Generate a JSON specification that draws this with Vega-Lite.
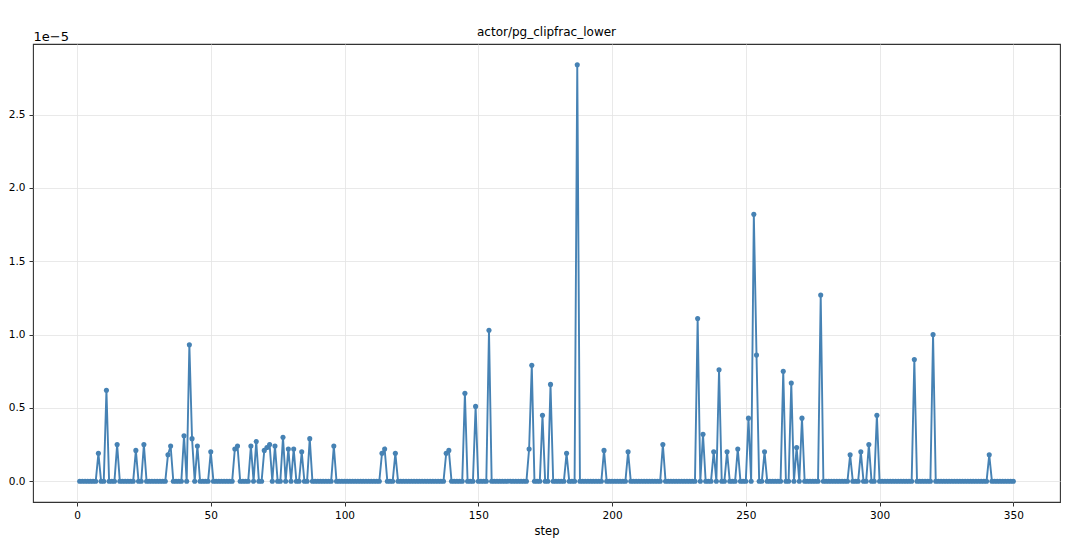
{
  "$schema": "https://vega.github.io/schema/vega-lite/v6.json",
  "autosize": {"type": "none"},
  "width": 1027,
  "height": 458,
  "padding": {"left": 33, "top": 44, "right": 20, "bottom": 57},
  "background": "white",
  "title": {"text": "actor/pg_clipfrac_lower", "font": "DejaVu Sans", "fontSize": 12, "fontWeight": "normal", "color": "black", "offset": -9},
  "config": {
    "view": {"stroke": "#333333", "strokeWidth": 1.1},
    "axis": {"labelFont": "DejaVu Sans", "titleFont": "DejaVu Sans", "labelColor": "black", "titleColor": "black", "labelFontSize": 10.5, "titleFontSize": 11.5, "titleFontWeight": "normal", "tickColor": "#333333", "tickSize": 4, "domain": false, "gridColor": "#e3e3e3", "gridWidth": 0.8}
  },
  "data": {"values": [
{"step":1,"value":0},{"step":2,"value":0},{"step":3,"value":0},{"step":4,"value":0},{"step":5,"value":0},{"step":6,"value":0},{"step":7,"value":0},{"step":8,"value":1.9e-6},{"step":9,"value":0},{"step":10,"value":0},
{"step":11,"value":6.2e-6},{"step":12,"value":0},{"step":13,"value":0},{"step":14,"value":0},{"step":15,"value":2.5e-6},{"step":16,"value":0},{"step":17,"value":0},{"step":18,"value":0},{"step":19,"value":0},{"step":20,"value":0},
{"step":21,"value":0},{"step":22,"value":2.1e-6},{"step":23,"value":0},{"step":24,"value":0},{"step":25,"value":2.5e-6},{"step":26,"value":0},{"step":27,"value":0},{"step":28,"value":0},{"step":29,"value":0},{"step":30,"value":0},
{"step":31,"value":0},{"step":32,"value":0},{"step":33,"value":0},{"step":34,"value":1.8e-6},{"step":35,"value":2.4e-6},{"step":36,"value":0},{"step":37,"value":0},{"step":38,"value":0},{"step":39,"value":0},{"step":40,"value":3.1e-6},
{"step":41,"value":0},{"step":42,"value":9.3e-6},{"step":43,"value":2.9e-6},{"step":44,"value":0},{"step":45,"value":2.4e-6},{"step":46,"value":0},{"step":47,"value":0},{"step":48,"value":0},{"step":49,"value":0},{"step":50,"value":2.0e-6},
{"step":51,"value":0},{"step":52,"value":0},{"step":53,"value":0},{"step":54,"value":0},{"step":55,"value":0},{"step":56,"value":0},{"step":57,"value":0},{"step":58,"value":0},{"step":59,"value":2.2e-6},{"step":60,"value":2.4e-6},
{"step":61,"value":0},{"step":62,"value":0},{"step":63,"value":0},{"step":64,"value":0},{"step":65,"value":2.4e-6},{"step":66,"value":0},{"step":67,"value":2.7e-6},{"step":68,"value":0},{"step":69,"value":0},{"step":70,"value":2.1e-6},
{"step":71,"value":2.3e-6},{"step":72,"value":2.5e-6},{"step":73,"value":0},{"step":74,"value":2.4e-6},{"step":75,"value":0},{"step":76,"value":0},{"step":77,"value":3.0e-6},{"step":78,"value":0},{"step":79,"value":2.2e-6},{"step":80,"value":0},
{"step":81,"value":2.2e-6},{"step":82,"value":0},{"step":83,"value":0},{"step":84,"value":2.0e-6},{"step":85,"value":0},{"step":86,"value":0},{"step":87,"value":2.9e-6},{"step":88,"value":0},{"step":89,"value":0},{"step":90,"value":0},
{"step":91,"value":0},{"step":92,"value":0},{"step":93,"value":0},{"step":94,"value":0},{"step":95,"value":0},{"step":96,"value":2.4e-6},{"step":97,"value":0},{"step":98,"value":0},{"step":99,"value":0},{"step":100,"value":0},
{"step":101,"value":0},{"step":102,"value":0},{"step":103,"value":0},{"step":104,"value":0},{"step":105,"value":0},{"step":106,"value":0},{"step":107,"value":0},{"step":108,"value":0},{"step":109,"value":0},{"step":110,"value":0},
{"step":111,"value":0},{"step":112,"value":0},{"step":113,"value":0},{"step":114,"value":1.9e-6},{"step":115,"value":2.2e-6},{"step":116,"value":0},{"step":117,"value":0},{"step":118,"value":0},{"step":119,"value":1.9e-6},{"step":120,"value":0},
{"step":121,"value":0},{"step":122,"value":0},{"step":123,"value":0},{"step":124,"value":0},{"step":125,"value":0},{"step":126,"value":0},{"step":127,"value":0},{"step":128,"value":0},{"step":129,"value":0},{"step":130,"value":0},
{"step":131,"value":0},{"step":132,"value":0},{"step":133,"value":0},{"step":134,"value":0},{"step":135,"value":0},{"step":136,"value":0},{"step":137,"value":0},{"step":138,"value":1.9e-6},{"step":139,"value":2.1e-6},{"step":140,"value":0},
{"step":141,"value":0},{"step":142,"value":0},{"step":143,"value":0},{"step":144,"value":0},{"step":145,"value":6.0e-6},{"step":146,"value":0},{"step":147,"value":0},{"step":148,"value":0},{"step":149,"value":5.1e-6},{"step":150,"value":0},
{"step":151,"value":0},{"step":152,"value":0},{"step":153,"value":0},{"step":154,"value":1.03e-5},{"step":155,"value":0},{"step":156,"value":0},{"step":157,"value":0},{"step":158,"value":0},{"step":159,"value":0},{"step":160,"value":0},
{"step":161,"value":0},{"step":162,"value":0},{"step":163,"value":0},{"step":164,"value":0},{"step":165,"value":0},{"step":166,"value":0},{"step":167,"value":0},{"step":168,"value":0},{"step":169,"value":2.2e-6},{"step":170,"value":7.9e-6},
{"step":171,"value":0},{"step":172,"value":0},{"step":173,"value":0},{"step":174,"value":4.5e-6},{"step":175,"value":0},{"step":176,"value":0},{"step":177,"value":6.6e-6},{"step":178,"value":0},{"step":179,"value":0},{"step":180,"value":0},
{"step":181,"value":0},{"step":182,"value":0},{"step":183,"value":1.9e-6},{"step":184,"value":0},{"step":185,"value":0},{"step":186,"value":0},{"step":187,"value":2.84e-5},{"step":188,"value":0},{"step":189,"value":0},{"step":190,"value":0},
{"step":191,"value":0},{"step":192,"value":0},{"step":193,"value":0},{"step":194,"value":0},{"step":195,"value":0},{"step":196,"value":0},{"step":197,"value":2.1e-6},{"step":198,"value":0},{"step":199,"value":0},{"step":200,"value":0},
{"step":201,"value":0},{"step":202,"value":0},{"step":203,"value":0},{"step":204,"value":0},{"step":205,"value":0},{"step":206,"value":2.0e-6},{"step":207,"value":0},{"step":208,"value":0},{"step":209,"value":0},{"step":210,"value":0},
{"step":211,"value":0},{"step":212,"value":0},{"step":213,"value":0},{"step":214,"value":0},{"step":215,"value":0},{"step":216,"value":0},{"step":217,"value":0},{"step":218,"value":0},{"step":219,"value":2.5e-6},{"step":220,"value":0},
{"step":221,"value":0},{"step":222,"value":0},{"step":223,"value":0},{"step":224,"value":0},{"step":225,"value":0},{"step":226,"value":0},{"step":227,"value":0},{"step":228,"value":0},{"step":229,"value":0},{"step":230,"value":0},
{"step":231,"value":0},{"step":232,"value":1.11e-5},{"step":233,"value":0},{"step":234,"value":3.2e-6},{"step":235,"value":0},{"step":236,"value":0},{"step":237,"value":0},{"step":238,"value":2.0e-6},{"step":239,"value":0},{"step":240,"value":7.6e-6},
{"step":241,"value":0},{"step":242,"value":0},{"step":243,"value":2.0e-6},{"step":244,"value":0},{"step":245,"value":0},{"step":246,"value":0},{"step":247,"value":2.2e-6},{"step":248,"value":0},{"step":249,"value":0},{"step":250,"value":0},
{"step":251,"value":4.3e-6},{"step":252,"value":0},{"step":253,"value":1.82e-5},{"step":254,"value":8.6e-6},{"step":255,"value":0},{"step":256,"value":0},{"step":257,"value":2.0e-6},{"step":258,"value":0},{"step":259,"value":0},{"step":260,"value":0},
{"step":261,"value":0},{"step":262,"value":0},{"step":263,"value":0},{"step":264,"value":7.5e-6},{"step":265,"value":0},{"step":266,"value":0},{"step":267,"value":6.7e-6},{"step":268,"value":0},{"step":269,"value":2.3e-6},{"step":270,"value":0},
{"step":271,"value":4.3e-6},{"step":272,"value":0},{"step":273,"value":0},{"step":274,"value":0},{"step":275,"value":0},{"step":276,"value":0},{"step":277,"value":0},{"step":278,"value":1.27e-5},{"step":279,"value":0},{"step":280,"value":0},
{"step":281,"value":0},{"step":282,"value":0},{"step":283,"value":0},{"step":284,"value":0},{"step":285,"value":0},{"step":286,"value":0},{"step":287,"value":0},{"step":288,"value":0},{"step":289,"value":1.8e-6},{"step":290,"value":0},
{"step":291,"value":0},{"step":292,"value":0},{"step":293,"value":2.0e-6},{"step":294,"value":0},{"step":295,"value":0},{"step":296,"value":2.5e-6},{"step":297,"value":0},{"step":298,"value":0},{"step":299,"value":4.5e-6},{"step":300,"value":0},
{"step":301,"value":0},{"step":302,"value":0},{"step":303,"value":0},{"step":304,"value":0},{"step":305,"value":0},{"step":306,"value":0},{"step":307,"value":0},{"step":308,"value":0},{"step":309,"value":0},{"step":310,"value":0},
{"step":311,"value":0},{"step":312,"value":0},{"step":313,"value":8.3e-6},{"step":314,"value":0},{"step":315,"value":0},{"step":316,"value":0},{"step":317,"value":0},{"step":318,"value":0},{"step":319,"value":0},{"step":320,"value":1.0e-5},
{"step":321,"value":0},{"step":322,"value":0},{"step":323,"value":0},{"step":324,"value":0},{"step":325,"value":0},{"step":326,"value":0},{"step":327,"value":0},{"step":328,"value":0},{"step":329,"value":0},{"step":330,"value":0},
{"step":331,"value":0},{"step":332,"value":0},{"step":333,"value":0},{"step":334,"value":0},{"step":335,"value":0},{"step":336,"value":0},{"step":337,"value":0},{"step":338,"value":0},{"step":339,"value":0},{"step":340,"value":0},
{"step":341,"value":1.8e-6},{"step":342,"value":0},{"step":343,"value":0},{"step":344,"value":0},{"step":345,"value":0},{"step":346,"value":0},{"step":347,"value":0},{"step":348,"value":0},{"step":349,"value":0},{"step":350,"value":0}
  ]},
  "mark": {"type": "line", "color": "#4682b4", "strokeWidth": 1.9, "clip": true, "point": {"filled": true, "size": 26, "color": "#4682b4"}},
  "encoding": {
    "x": {"field": "step", "type": "quantitative", "scale": {"domain": [-16.45, 367.45], "nice": false, "zero": false},
      "axis": {"values": [0, 50, 100, 150, 200, 250, 300, 350], "title": "step", "labelPadding": 4, "titlePadding": 5, "labelFlush": false}},
    "y": {"field": "value", "type": "quantitative", "scale": {"domain": [-0.00000142, 0.00002982], "nice": false, "zero": false},
      "axis": {"values": [0, 0.000005, 0.00001, 0.000015, 0.00002, 0.000025], "labelExpr": "format(datum.value * 100000, '.1f')", "labelPadding": 4, "labelFlush": false,
        "title": "1e\u22125", "titleAngle": 0, "titleAlign": "left", "titleBaseline": "alphabetic", "titleX": 0, "titleY": -4, "titleFontSize": 13}}
  }
}
